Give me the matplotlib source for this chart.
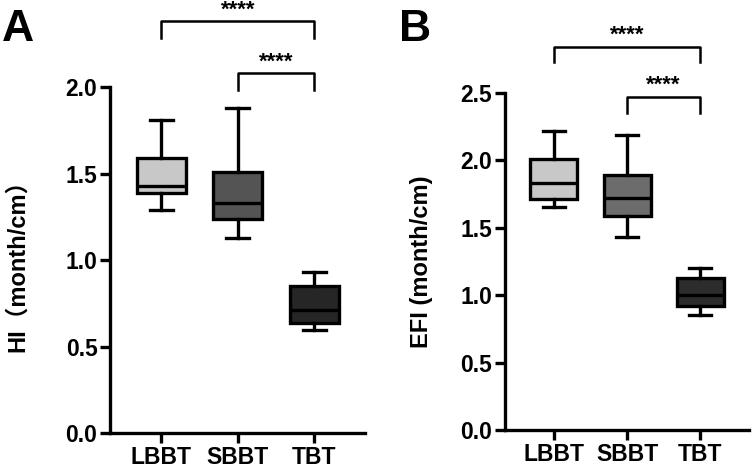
import matplotlib
matplotlib.use("Agg")
import matplotlib.pyplot as plt

plt.rcParams['font.family'] = ['Liberation Sans', 'Noto Sans CJK SC', 'DejaVu Sans']
plt.rcParams['font.weight'] = 'bold'

groups = ["LBBT", "SBBT", "TBT"]
colors_a = ["#c8c8c8", "#545454", "#262626"]
colors_b = ["#c8c8c8", "#6c6c6c", "#2c2c2c"]

# HI (month/cm): whisker low, q1, median, q3, whisker high
hi_low = [1.29, 1.13, 0.60]
hi_q1 = [1.39, 1.24, 0.64]
hi_med = [1.43, 1.33, 0.71]
hi_q3 = [1.59, 1.51, 0.85]
hi_high = [1.81, 1.88, 0.93]

# EFI (month/cm)
efi_low = [1.65, 1.43, 0.85]
efi_q1 = [1.71, 1.59, 0.92]
efi_med = [1.83, 1.72, 1.00]
efi_q3 = [2.01, 1.89, 1.13]
efi_high = [2.22, 2.19, 1.20]

# significance brackets: (x1, x2, y, drop, label)
hi_sig = [(1, 3, 2.385, 0.10, "****"), (2, 3, 2.085, 0.10, "****")]
efi_sig = [(1, 3, 2.84, 0.11, "****"), (2, 3, 2.47, 0.12, "****")]

fig = plt.figure(figsize=(7.56, 4.71), dpi=100)
axA = fig.add_axes([0.1455, 0.080, 0.337, 0.7346])
axB = fig.add_axes([0.6676, 0.087, 0.3228, 0.716])


def draw(ax, low, q1, med, q3, high, colors, ymax, ylabel, lpad, sig, star_off):
    stats = []
    for i in range(len(groups)):
        stats.append(dict(whislo=low[i], q1=q1[i], med=med[i], q3=q3[i],
                          whishi=high[i], fliers=[], label=groups[i]))
    lw = 2.4
    bp = ax.bxp(stats, positions=[1, 2, 3], widths=0.64, patch_artist=True,
                showfliers=False,
                boxprops=dict(linewidth=lw, edgecolor="black"),
                medianprops=dict(linewidth=lw, color="black"),
                whiskerprops=dict(linewidth=lw, color="black"),
                capprops=dict(linewidth=lw, color="black"),
                capwidths=0.3)
    for patch, c in zip(bp["boxes"], colors):
        patch.set_facecolor(c)

    ax.set_xlim(0.33, 3.66)
    ax.set_ylim(0, ymax)
    ticks = [i * 0.5 for i in range(int(round(ymax / 0.5)) + 1)]
    ax.set_yticks(ticks)
    ax.set_yticklabels([f"{t:.1f}" for t in ticks])
    ax.spines["top"].set_visible(False)
    ax.spines["right"].set_visible(False)
    for s in ["left", "bottom"]:
        ax.spines[s].set_linewidth(2.4)
    ax.tick_params(width=2.4, length=7, labelsize=16.5, direction="out", pad=2)
    for lab in ax.get_xticklabels() + ax.get_yticklabels():
        lab.set_fontweight("bold")
    ax.set_ylabel(ylabel, fontsize=17, fontweight="bold", labelpad=lpad)

    for x1, x2, y, drop, lbl in sig:
        ax.plot([x1, x1, x2, x2], [y - drop, y, y, y - drop], color="black",
                linewidth=1.8, clip_on=False)
        ax.text((x1 + x2) / 2, y + star_off, lbl, ha="center", va="bottom",
                fontsize=16, fontweight="bold", clip_on=False)


draw(axA, hi_low, hi_q1, hi_med, hi_q3, hi_high, colors_a, 2.0,
     "HI（month/cm）", 26, hi_sig, 0.0)
draw(axB, efi_low, efi_q1, efi_med, efi_q3, efi_high, colors_b, 2.5,
     "EFI (month/cm)", 20, efi_sig, 0.01)

fig.text(0.003, 0.98, "A", fontsize=32, fontweight="bold", va="top", ha="left")
fig.text(0.528, 0.98, "B", fontsize=32, fontweight="bold", va="top", ha="left")

fig.savefig("out.png", dpi=100)
